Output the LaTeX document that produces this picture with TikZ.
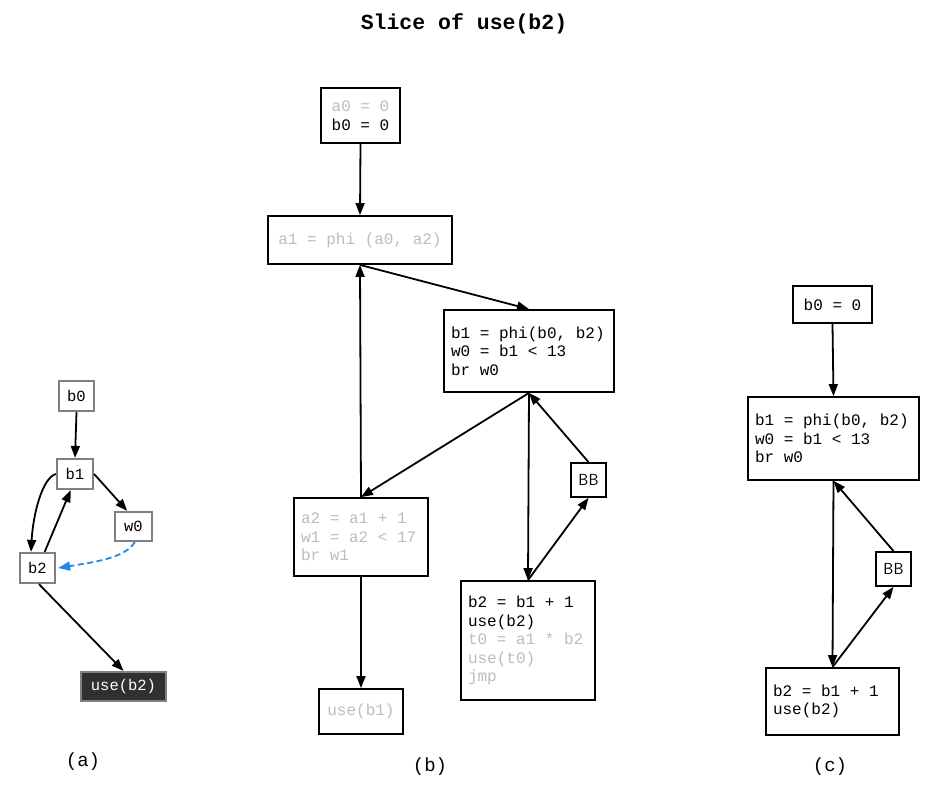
\documentclass[tikz,border=0pt]{standalone}
\usepackage{fontspec}
\setmainfont{Liberation Sans}
\setmonofont{Liberation Mono}
\usetikzlibrary{arrows.meta,calc}
\definecolor{faint}{RGB}{188,188,188}
\definecolor{boxgray}{RGB}{128,128,128}
\definecolor{darkfill}{RGB}{48,48,48}
\definecolor{dashblue}{RGB}{30,136,240}
\newcommand\myfixsp{\spaceskip=9.6pt\relax\xspaceskip=9.6pt\relax}
\begin{document}
\begin{tikzpicture}[x=1pt,y=-1pt,
  code/.style={draw,line width=1.8pt,inner sep=7pt,font=\ttfamily\fontsize{16}{18.5}\selectfont,execute at begin node=\myfixsp,align=left,anchor=center},
  small/.style={draw,line width=1.8pt,inner sep=0pt,font=\sffamily\fontsize{16}{18}\selectfont,minimum width=35pt,minimum height=34pt},
  gbox/.style={draw=boxgray,line width=2.2pt,inner sep=0pt,font=\ttfamily\fontsize{15.5}{18}\selectfont,minimum height=30pt},
  edge/.style={line width=1.8pt,-{Triangle[length=12pt,width=9pt]}},
  sublabel/.style={font=\ttfamily\fontsize{19}{22}\selectfont}]
\useasboundingbox (0,0) rectangle (938,794);
\node[font=\ttfamily\bfseries\fontsize{21.5}{24}\selectfont] (title) at (464,24) {Slice of use(b2)};
% (a)
\node[gbox,minimum width=35pt] (a0) at (76.5,396) {b0};
\node[gbox,minimum width=36pt] (a1) at (75,474) {b1};
\node[gbox,minimum width=37pt,minimum height=29pt] (aw) at (133.5,526.5) {w0};
\node[gbox,minimum width=35pt] (a2) at (37.5,568) {b2};
\node[gbox,minimum width=85pt,minimum height=29pt,fill=darkfill,text=white] (au) at (123.5,686.5) {use(b2)};
\draw[edge] (a0.south) -- (a1.north);
\draw[edge] (a1.east) -- (aw.112);
\draw[edge] (a1.west) .. controls (42,478) and (33,515) .. (a2.112);
\draw[edge] (a2.66) -- (a1.-105);
\draw[edge,dashblue,dashed,dash pattern=on 6pt off 3.5pt] (aw.-85) .. controls (125,558) and (95,562) .. ($(a2.east)+(2,0)$);
\draw[edge] (a2.-85) -- (au.north);
\node[sublabel] (la) at (83,762) {(a)};
% (b)
\node[code,minimum width=79pt,minimum height=55pt] (bA) at (360.5,115.5) {\textcolor{faint}{a0 = 0}\\b0 = 0};
\node[code,minimum width=184pt,minimum height=48pt] (bB) at (360,240) {\textcolor{faint}{a1 = phi (a0, a2)}};
\node[code,minimum width=170pt,minimum height=82pt,text width=156pt] (bC) at (529,351) {b1 = phi(b0, b2)\\w0 = b1 < 13\\br w0};
\node[code,minimum width=134pt,minimum height=78pt,text width=120pt,text=faint] (bD) at (361,537) {a2 = a1 + 1\\w1 = a2 < 17\\br w1};
\node[code,minimum width=84pt,minimum height=45pt,text=faint] (bE) at (361,711.5) {use(b1)};
\node[code,minimum width=134pt,minimum height=119pt,text width=120pt] (bF) at (528,640.5) {b2 = b1 + 1\\use(b2)\\\textcolor{faint}{t0 = a1 * b2}\\\textcolor{faint}{use(t0)}\\\textcolor{faint}{jmp}};
\node[small] (bBB) at (588.5,480) {BB};
\draw[edge] (bA.south) -- (bB.north);
\draw[edge] (bB.south) -- (bC.north);
\draw[edge] (bC.south) -- (bD.north);
\draw[edge] (bD.north) -- (bB.south);
\draw[edge] (bD.south) -- (bE.north);
\draw[edge] (bC.south) -- (bF.north);
\draw[edge] (bF.north) -- (bBB.south);
\draw[edge] (bBB.north) -- (bC.south);
\node[sublabel] (lb) at (430,767) {(b)};
% (c)
\node[code,minimum width=79pt,minimum height=37pt] (cG) at (832.5,304.5) {b0 = 0};
\node[code,minimum width=171pt,minimum height=83pt,text width=157pt] (cH) at (833.5,438.5) {b1 = phi(b0, b2)\\w0 = b1 < 13\\br w0};
\node[small] (cBB) at (893.5,569) {BB};
\node[code,minimum width=133pt,minimum height=67pt,text width=119pt] (cI) at (832.5,701.5) {b2 = b1 + 1\\use(b2)};
\draw[edge] (cG.south) -- (cH.north);
\draw[edge] (cH.south) -- (cI.north);
\draw[edge] (cI.north) -- (cBB.south);
\draw[edge] (cBB.north) -- (cH.south);
\node[sublabel] (lc) at (830,767) {(c)};
\end{tikzpicture}
\end{document}
